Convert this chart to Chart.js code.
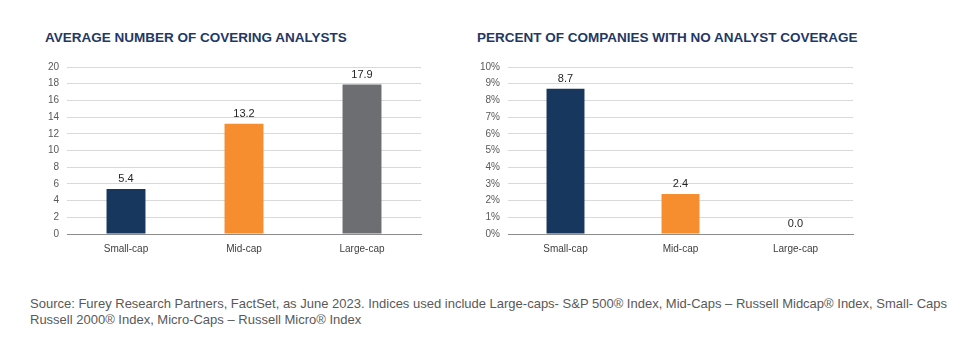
<!DOCTYPE html>
<html>
<head>
<meta charset="utf-8">
<script src="https://cdn.jsdelivr.net/npm/chart.js@4.4.1/dist/chart.umd.min.js"></script>
<style>
  body { margin: 0; background: #fff; width: 975px; height: 340px; position: relative; overflow: hidden; font-family: "Liberation Sans", Arial, sans-serif; }
  .title { position: absolute; top: 30px; font-weight: bold; font-size: 13.5px; color: #1f3864; }
  .box { position: absolute; top: 50px; width: 400px; height: 214px; }
  .note { position: absolute; left: 30px; top: 296px; font-size: 13px; line-height: 16px; color: #595959; white-space: nowrap; }
</style>
</head>
<body>
<div class="title" style="left:45px">AVERAGE NUMBER OF COVERING ANALYSTS</div>
<div class="title" style="left:477px">PERCENT OF COMPANIES WITH NO ANALYST COVERAGE</div>
<div class="box" style="left:30px"><canvas id="analystsChart"></canvas></div>
<div class="box" style="left:470px"><canvas id="noCoverageChart"></canvas></div>
<div class="note">Source: Furey Research Partners, FactSet, as June 2023. Indices used include Large-caps- S&amp;P 500® Index, Mid-Caps – Russell Midcap® Index, Small- Caps<br>Russell 2000® Index, Micro-Caps – Russell Micro® Index</div>
<script>
const categories = ['Small-cap', 'Mid-cap', 'Large-cap']
const avgAnalysts = [5.4, 13.2, 17.9]
const pctNoCoverage = [8.7, 2.4, 0.0]
const barColors = ['#17375e', '#f68d2e', '#6d6e71']

// value labels above each bar
const valueLabels = {
  id: 'valueLabels',
  afterDatasetsDraw(chart) {
    const ctx = chart.ctx
    const meta = chart.getDatasetMeta(0)
    ctx.save()
    ctx.font = '11px "Liberation Sans", Arial, sans-serif'
    ctx.fillStyle = '#262626'
    ctx.textAlign = 'center'
    ctx.textBaseline = 'middle'
    meta.data.forEach((bar, i) => {
      const v = chart.data.datasets[0].data[i]
      ctx.fillText(v.toFixed(1), bar.x, bar.y - 10)
    })
    ctx.restore()
  }
}

function makeConfig(values, yMax, yStep, yWidth, padRight, suffix) {
  return {
    type: 'bar',
    data: {
      labels: categories,
      datasets: [{
        data: values,
        backgroundColor: barColors,
        barPercentage: 0.33,
        categoryPercentage: 1
      }]
    },
    options: {
      responsive: false,
      animation: false,
      layout: { padding: { top: 17, right: padRight, bottom: 0, left: 0 } },
      plugins: { legend: { display: false }, tooltip: { enabled: false } },
      scales: {
        x: {
          grid: { display: false, drawTicks: false },
          border: { color: '#8c8c8c' },
          ticks: { color: '#404040', font: { size: 10, family: '"Liberation Sans", Arial' }, padding: 9 }
        },
        y: {
          min: 0,
          max: yMax,
          afterFit(scale) { scale.width = yWidth },
          grid: { color: '#d9d9d9', drawTicks: false },
          border: { display: false },
          ticks: {
            stepSize: yStep,
            padding: 8,
            color: '#595959',
            font: { size: 10, family: '"Liberation Sans", Arial' },
            callback: v => v + suffix
          }
        }
      }
    },
    plugins: [valueLabels]
  }
}

const leftCanvas = document.getElementById('analystsChart')
leftCanvas.width = 400
leftCanvas.height = 214
new Chart(leftCanvas, makeConfig(avgAnalysts, 20, 2, 37, 9, ''))

const rightCanvas = document.getElementById('noCoverageChart')
rightCanvas.width = 400
rightCanvas.height = 214
new Chart(rightCanvas, makeConfig(pctNoCoverage, 10, 1, 38, 17, '%'))
</script>
</body>
</html>
